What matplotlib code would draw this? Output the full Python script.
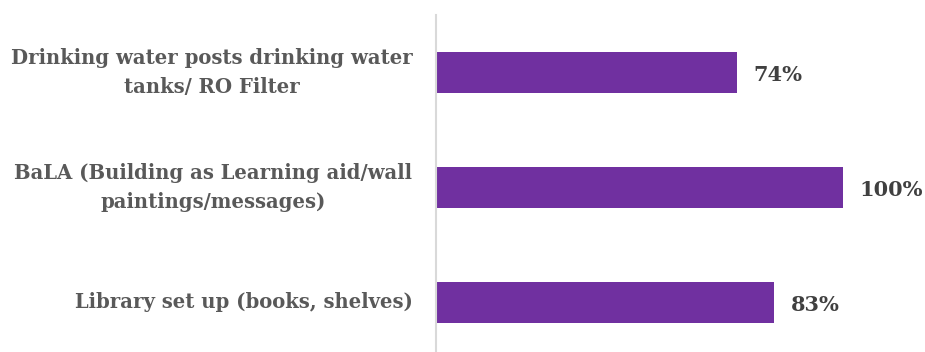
import matplotlib
matplotlib.use("Agg")
import matplotlib.pyplot as plt

categories = [
    "Drinking water posts drinking water\ntanks/ RO Filter",
    "BaLA (Building as Learning aid/wall\npaintings/messages)",
    "Library set up (books, shelves)",
]
values = [74, 100, 83]
value_labels = ["74%", "100%", "83%"]

W, H = 925, 352
fig = plt.figure(figsize=(W / 100, H / 100), dpi=100)
ax = fig.add_axes([436 / W, 0, (843 - 436) / W, (352 - 15) / H])

ypos = list(range(len(categories)))
ax.barh(ypos, values, height=0.36, color="#7030A0", zorder=2)

ax.set_xlim(0, 100)
ax.set_ylim(-0.5 + 337 / 115, -0.5)

for s in ["top", "right", "bottom"]:
    ax.spines[s].set_visible(False)
ax.spines["left"].set_color("#D9D9D9")
ax.spines["left"].set_linewidth(1.5)
ax.set_xticks([])
ax.set_yticks([])

font = "DejaVu Serif"
for y, lab in zip(ypos, categories):
    ax.annotate(lab, xy=(0, y), xytext=(-17, 0), textcoords="offset points",
                ha="right", va="center", multialignment="center",
                fontsize=14.1, fontweight="bold", color="#595959",
                family=font, linespacing=1.62, annotation_clip=False)

for y, v, t in zip(ypos, values, value_labels):
    ax.annotate(t, xy=(v, y), xytext=(12, -1.5), textcoords="offset points",
                ha="left", va="center", fontsize=15, fontweight="bold",
                color="#404040", family=font, annotation_clip=False)

fig.savefig("out.png", dpi=100)
